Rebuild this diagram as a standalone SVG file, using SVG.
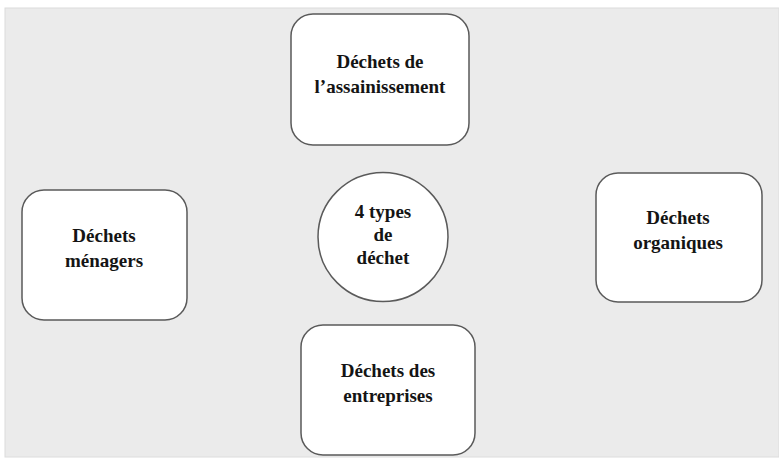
<svg xmlns="http://www.w3.org/2000/svg" width="779" height="460" viewBox="0 0 779 460">
<style>
.node{fill:#ffffff;stroke:#5a5a5a;stroke-width:1.5}
.t{font-family:"Liberation Serif","Times New Roman",serif;font-weight:bold;font-size:19px;fill:#141414;text-anchor:middle}
</style>
<rect x="0" y="0" width="779" height="460" fill="#ffffff"/>
<rect x="5" y="8" width="774" height="449" fill="#ebebeb" stroke="#dcdcdc" stroke-width="1"/>
<g id="connectors"></g>
<g id="assainissement">
<rect class="node" x="291" y="14" width="178" height="131" rx="22"/>
<text class="t" x="380" y="68">Déchets de</text>
<text class="t" x="380" y="93">l’assainissement</text>
</g>
<g id="center">
<ellipse class="node" cx="383" cy="237" rx="65" ry="64.5"/>
<text class="t" x="383" y="218">4 types</text>
<text class="t" x="383" y="241">de</text>
<text class="t" x="383" y="264">déchet</text>
</g>
<g id="menagers">
<rect class="node" x="22" y="190" width="165" height="130" rx="22"/>
<text class="t" x="104" y="242">Déchets</text>
<text class="t" x="104" y="267">ménagers</text>
</g>
<g id="organiques">
<rect class="node" x="596" y="173" width="166" height="129" rx="22"/>
<text class="t" x="678" y="224">Déchets</text>
<text class="t" x="678" y="249">organiques</text>
</g>
<g id="entreprises">
<rect class="node" x="301" y="325" width="174" height="130" rx="22"/>
<text class="t" x="388" y="377">Déchets des</text>
<text class="t" x="388" y="402">entreprises</text>
</g>
</svg>
